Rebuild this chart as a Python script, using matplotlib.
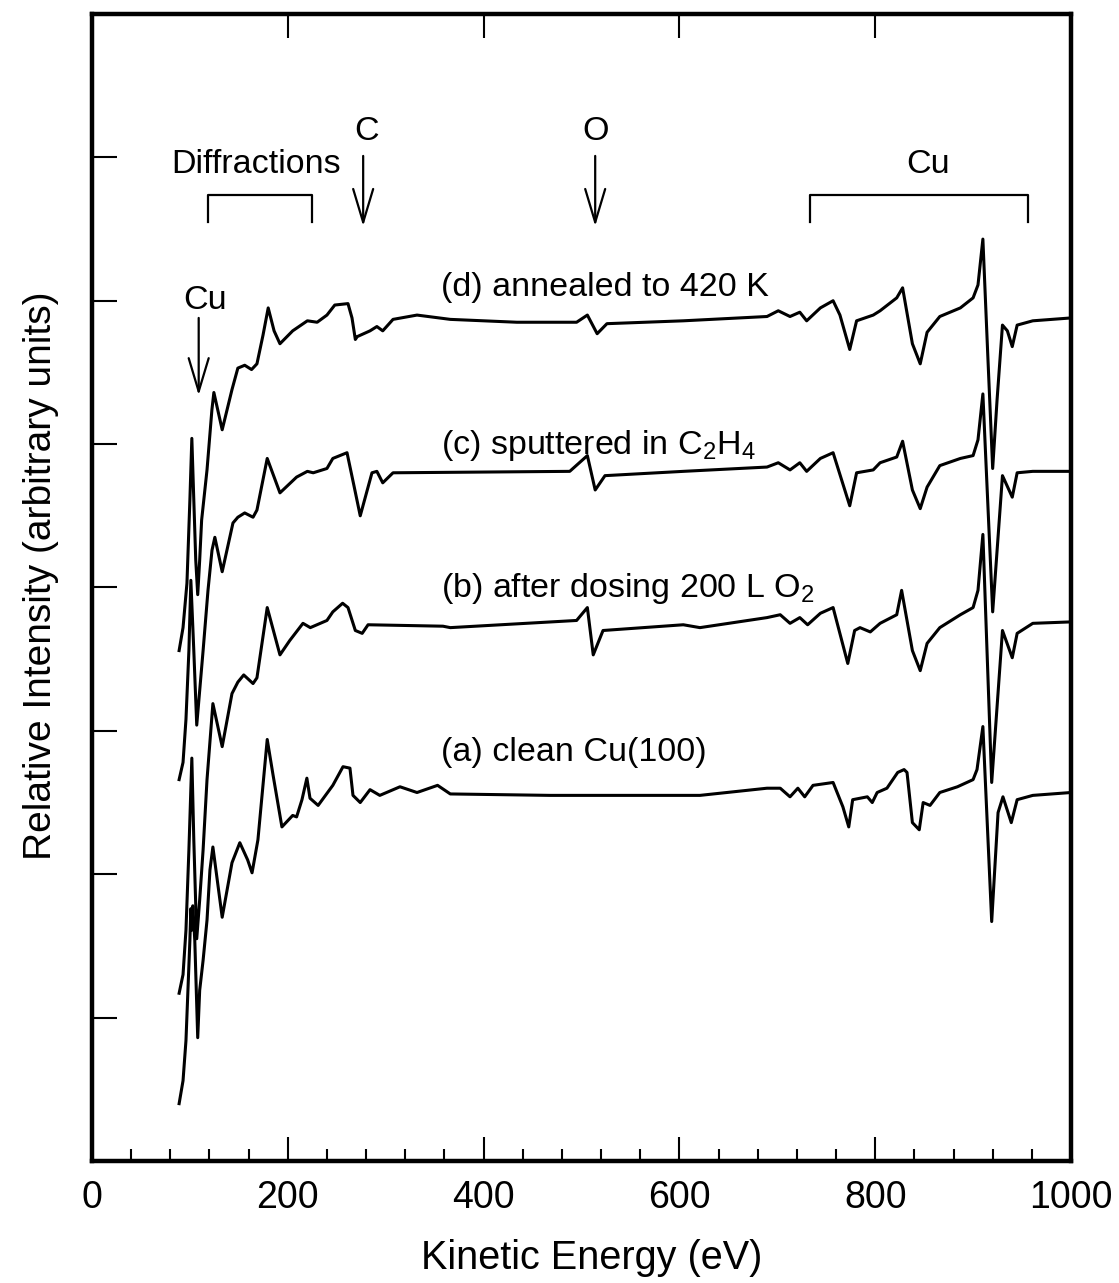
import numpy as np
import matplotlib
matplotlib.use("Agg")
import matplotlib.pyplot as plt
from matplotlib.ticker import MultipleLocator, FixedLocator, NullFormatter

plt.rcParams['font.family'] = ['Liberation Sans', 'DejaVu Sans']
plt.rcParams['mathtext.fontset'] = 'custom'
plt.rcParams['mathtext.rm'] = 'Liberation Sans'

# spectra: kinetic energy (eV) and intensity (arb. units, offset)
energy_d = [89, 93, 97, 100, 102, 104, 106, 108, 110, 112, 117.5, 122.5, 124.5, 133, 143, 149, 156, 163,
            168.5, 174.7, 180, 186, 192, 205, 220, 230, 240, 248, 261.5, 265.6, 269, 271, 284, 291, 297,
            307.5, 332, 366, 434, 495, 506, 516, 526, 604, 689.5, 701, 713, 723, 730, 744, 757, 764, 774,
            781, 798, 805, 822, 828, 838, 846, 853, 866, 887, 900, 905, 910, 915, 920, 924.5, 930, 935,
            940, 945, 961, 1000]
intens_d = [3.56, 3.72, 4.03, 4.61, 5.04, 4.61, 4.19, 3.95, 4.19, 4.47, 4.82, 5.24, 5.36, 5.10, 5.38, 5.53,
            5.55, 5.52, 5.56, 5.76, 5.95, 5.79, 5.70, 5.79, 5.86, 5.85, 5.90, 5.97, 5.98, 5.88, 5.73, 5.75,
            5.79, 5.82, 5.79, 5.87, 5.90, 5.87, 5.85, 5.85, 5.90, 5.77, 5.84, 5.86, 5.89, 5.93, 5.89, 5.92,
            5.86, 5.95, 6.00, 5.90, 5.66, 5.86, 5.90, 5.93, 6.02, 6.09, 5.70, 5.56, 5.78, 5.89, 5.95, 6.02,
            6.11, 6.43, 5.62, 4.83, 5.31, 5.83, 5.79, 5.68, 5.83, 5.86, 5.88]

energy_c = [89, 93, 96, 99, 101, 104, 107, 110, 113.5, 118.5, 122.6, 125.5, 133, 144, 149, 156, 164.5,
            168.5, 179, 192, 209, 220, 226, 240, 246, 260.5, 267.6, 274, 286, 291, 297, 307.5, 488, 506,
            514, 524, 604, 689.5, 701, 713, 723, 730, 744, 757, 774, 781, 798, 805, 822, 828, 838, 846,
            853, 866, 887, 900, 905, 910, 920, 930, 940, 945, 961, 1000]
intens_c = [2.66, 2.78, 3.08, 3.56, 4.05, 3.56, 3.04, 3.28, 3.56, 3.98, 4.26, 4.35, 4.11, 4.45, 4.49, 4.52,
            4.49, 4.54, 4.90, 4.66, 4.77, 4.81, 4.80, 4.83, 4.90, 4.94, 4.71, 4.50, 4.80, 4.81, 4.73, 4.80,
            4.81, 4.92, 4.68, 4.78, 4.81, 4.84, 4.87, 4.82, 4.87, 4.81, 4.90, 4.94, 4.57, 4.80, 4.82, 4.87,
            4.91, 5.02, 4.68, 4.55, 4.70, 4.85, 4.90, 4.92, 5.03, 5.35, 3.83, 4.78, 4.63, 4.80, 4.81, 4.81]

energy_b = [89, 93, 96, 99, 102, 104, 107, 110, 113.5, 117.5, 123.5, 133, 143, 149, 155, 164.5, 168.5,
            179, 192, 202, 215.5, 223, 240, 246, 256, 261.5, 269, 276, 282, 358.5, 366, 495, 506, 512,
            522, 604, 621, 689.5, 703, 713, 723, 731, 744, 757, 772, 779, 784.5, 795, 805, 822, 827, 838,
            846, 853, 866, 887, 900, 905, 910, 919, 930, 940, 945, 961, 1000]
intens_b = [1.17, 1.30, 1.61, 2.17, 2.81, 2.24, 1.55, 1.82, 2.17, 2.66, 3.19, 2.89, 3.26, 3.34, 3.39, 3.33,
            3.37, 3.86, 3.53, 3.63, 3.75, 3.72, 3.77, 3.83, 3.89, 3.86, 3.70, 3.68, 3.74, 3.73, 3.72, 3.77,
            3.86, 3.53, 3.70, 3.74, 3.72, 3.79, 3.81, 3.75, 3.79, 3.74, 3.82, 3.86, 3.47, 3.70, 3.72, 3.69,
            3.75, 3.81, 3.98, 3.56, 3.42, 3.61, 3.72, 3.81, 3.86, 3.98, 4.37, 2.64, 3.70, 3.51, 3.68, 3.75,
            3.76]

energy_a = [89, 93, 96, 98, 100, 101, 102, 103, 105, 108, 110, 113.5, 117.5, 120.5, 123.5, 133, 143, 151,
            159, 163.5, 169.5, 179, 185, 194, 205, 209, 214.5, 219.5, 222.7, 231, 246, 256.4, 263.5,
            266.6, 274, 284, 294, 314.6, 332, 353, 366, 468, 621, 689.5, 703, 713, 721, 728, 736.5, 757,
            767, 773, 777, 792, 797, 802, 812, 823, 829.5, 832.5, 838, 845, 849, 856, 866, 884, 900, 904,
            910, 919, 925.5, 930.5, 939, 945, 961, 1000]
intens_a = [0.40, 0.56, 0.84, 1.19, 1.54, 1.76, 1.61, 1.78, 1.54, 0.86, 1.19, 1.40, 1.68, 2.03, 2.19, 1.70,
            2.08, 2.22, 2.10, 2.01, 2.24, 2.94, 2.69, 2.33, 2.41, 2.40, 2.52, 2.67, 2.53, 2.48, 2.62, 2.75,
            2.74, 2.55, 2.50, 2.59, 2.55, 2.61, 2.57, 2.62, 2.56, 2.55, 2.55, 2.60, 2.60, 2.54, 2.60, 2.54,
            2.62, 2.64, 2.47, 2.33, 2.52, 2.54, 2.50, 2.57, 2.60, 2.71, 2.73, 2.71, 2.36, 2.31, 2.50, 2.48,
            2.57, 2.61, 2.66, 2.73, 3.03, 1.67, 2.43, 2.54, 2.36, 2.52, 2.55, 2.57]

curve_labels = ["(d) annealed to 420 K", "(c) sputtered in C$_2$H$_4$",
                "(b) after dosing 200 L O$_2$", "(a) clean Cu(100)"]
label_y = [6.09, 4.99, 3.99, 2.85]

fig = plt.figure(figsize=(11.19, 12.83), dpi=100)
ax = fig.add_axes([0.0822, 0.0951, 0.8749, 0.8940])

for e, y in [(energy_d, intens_d), (energy_c, intens_c), (energy_b, intens_b), (energy_a, intens_a)]:
    ax.plot(e, y, color='black', lw=2.2, solid_joinstyle='round')

for text, y in zip(curve_labels, label_y):
    ax.text(356, y, text, fontsize=24.5, ha='left', va='center')

# element markers
arrow = dict(arrowstyle='->, head_length=0.6, head_width=0.18', lw=1.6, color='black',
             mutation_scale=40, shrinkA=0, shrinkB=0)
ax.text(115, 6.00, "Cu", fontsize=24.5, ha='center', va='center')
ax.annotate("", xy=(109, 5.34), xytext=(109, 5.88), arrowprops=arrow)
ax.text(280, 7.18, "C", fontsize=24.5, ha='center', va='center')
ax.annotate("", xy=(277, 6.52), xytext=(277, 7.01), arrowprops=arrow)
ax.text(514, 7.18, "O", fontsize=24.5, ha='center', va='center')
ax.annotate("", xy=(514, 6.52), xytext=(514, 7.01), arrowprops=arrow)

# brackets
ax.text(168, 6.95, "Diffractions", fontsize=24.5, ha='center', va='center')
ax.plot([118.5, 118.5, 224.7, 224.7], [6.55, 6.74, 6.74, 6.55], color='black', lw=1.6)
ax.text(854, 6.95, "Cu", fontsize=24.5, ha='center', va='center')
ax.plot([733.4, 733.4, 956.1, 956.1], [6.55, 6.74, 6.74, 6.55], color='black', lw=1.6)

ax.set_xlim(0, 1000)
ax.set_ylim(0, 8)
ax.xaxis.set_major_locator(MultipleLocator(200))
ax.xaxis.set_minor_locator(MultipleLocator(40))
ax.yaxis.set_major_locator(FixedLocator([1, 2, 3, 4, 5, 6, 7]))
ax.yaxis.set_major_formatter(NullFormatter())

ax.tick_params(axis='x', which='major', direction='in', length=17, width=1.5, top=True,
               labelsize=27, pad=14)
ax.tick_params(axis='x', which='minor', direction='in', length=9, width=1.5, top=False)
ax.tick_params(axis='y', which='major', direction='in', length=18, width=1.5, right=False)

for s in ax.spines.values():
    s.set_linewidth(3.2)

ax.set_xlabel("Kinetic Energy (eV)", fontsize=28.5)
ax.set_ylabel("Relative Intensity (arbitrary units)", fontsize=28)
ax.xaxis.set_label_coords(0.51, -0.068)
ax.yaxis.set_label_coords(-0.034, 0.51)

fig.savefig("out.png", dpi=100)
